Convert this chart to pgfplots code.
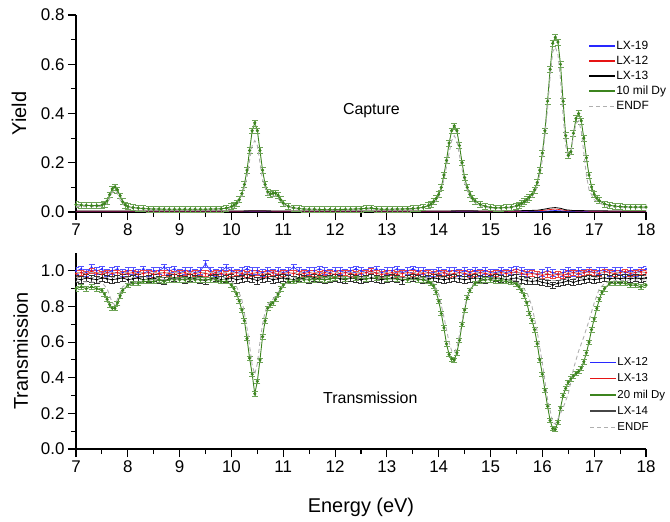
\documentclass[border=0pt]{standalone}
\usepackage{fontspec}
\setmainfont{Liberation Sans}
\usepackage{pgfplots}
\pgfplotsset{compat=1.18}

\definecolor{lxblue}{RGB}{40,40,255}
\definecolor{lxred}{RGB}{230,20,20}
\definecolor{dygreen}{RGB}{60,132,30}
\definecolor{endfgray}{RGB}{175,175,175}
\definecolor{lxgray}{RGB}{70,70,70}

\pgfplotsset{
  panel/.style={
    scale only axis, width=570bp,
    xmin=7, xmax=18, xtick={7,8,...,18}, minor x tick num=1, minor y tick num=1,
    axis x line*=bottom, axis y line*=left,
    axis line style={line width=1.1pt, -},
    tick align=outside, major tick length=8bp, minor tick length=5bp,
    every tick/.style={line width=1.1pt, black},
    tick label style={font=\fontsize{17}{17}\selectfont},
    /pgf/number format/assume math mode=true,
    yticklabel style={/pgf/number format/.cd, fixed, fixed zerofill, precision=1},
    label style={font=\fontsize{20}{20}\selectfont},
    legend cell align=left,
    legend image code/.code={\draw[##1] (0bp,0bp) -- (26bp,0bp);},
  },
  gdat/.style={dygreen, line width=0.9pt, mark=*, mark size=1.1pt,
    error bars/y dir=both, error bars/y fixed=#1,
    error bars/error bar style={line width=0.5pt, dygreen!75},
    error bars/error mark options={rotate=90, mark size=3bp, line width=0.5pt, dygreen!75}},
  fdat/.style n args={2}{#1, line width=0.7pt, mark=*, mark size=0.7pt,
    error bars/y dir=both, error bars/y fixed=#2,
    error bars/error bar style={line width=0.5pt, #1!80},
    error bars/error mark options={rotate=90, mark size=3bp, line width=0.5pt, #1!80}},
  endf/.style={endfgray, line width=0.9pt, dash pattern=on 4bp off 3bp},
  leg/.style={#1, line width=1.6pt, solid},
}

\begin{document}
\begin{tikzpicture}
\path[use as bounding box] (-76bp,-310bp) rectangle (594bp,212bp);

% ---------- Capture ----------
\begin{axis}[panel, at={(0,0)}, anchor=south west, height=197bp,
  ymin=0, ymax=0.8, ytick={0,0.2,0.4,0.6,0.8},
  ylabel={Yield},
  ylabel style={at={(axis description cs:-0.1,0.5)}, anchor=center},
  legend style={at={(axis description cs:0.893,0.885)}, anchor=north west,
    draw=none, fill=none, font=\fontsize{12}{12}\selectfont,
    nodes={inner sep=0.5bp, text height=9bp, text depth=2.5bp}, row sep=2.5bp},
]
\addplot[lxblue, line width=0.7pt, forget plot] coordinates {
(7,0.002) (7.5,0.002) (8,0.002) (8.5,0.002) (9,0.002) (9.5,0.002) (10,0.002)
(10.5,0.003) (11,0.002) (11.5,0.002) (12,0.002) (12.5,0.002) (13,0.002) (13.5,0.002)
(14,0.002) (14.5,0.003) (15,0.002) (15.5,0.002) (16,0.003) (16.25,0.006) (16.5,0.003)
(17,0.002) (17.5,0.002) (18,0.002)};
\addplot[lxred, line width=0.7pt, forget plot] coordinates {
(7,0.003) (7.5,0.003) (8,0.003) (8.5,0.003) (9,0.003) (9.5,0.003) (10,0.003)
(10.5,0.004) (11,0.003) (11.5,0.003) (12,0.003) (12.5,0.003) (13,0.003) (13.5,0.003)
(14,0.003) (14.5,0.004) (15,0.003) (15.5,0.003) (16,0.006) (16.1,0.009) (16.25,0.012)
(16.4,0.008) (16.5,0.005) (17,0.003) (17.5,0.003) (18,0.003)};
\addplot[black, line width=0.8pt, forget plot] coordinates {
(7,0.004) (7.5,0.004) (8,0.004) (8.5,0.004) (9,0.004) (9.5,0.004) (10,0.004)
(10.5,0.005) (11,0.004) (11.5,0.004) (12,0.004) (12.5,0.004) (13,0.004) (13.5,0.004)
(14,0.004) (14.5,0.005) (15,0.004) (15.5,0.005) (15.9,0.007) (16.05,0.012) (16.15,0.016)
(16.25,0.018) (16.35,0.015) (16.45,0.009) (16.6,0.006) (17,0.005) (17.5,0.004) (18,0.004)};
\addplot[forget plot, gdat=0.012] coordinates {
(7.0,0.030) (7.1,0.028) (7.2,0.027) (7.3,0.026) (7.4,0.026) (7.5,0.028) (7.55,0.033)
(7.6,0.045) (7.65,0.070) (7.7,0.094) (7.75,0.102) (7.8,0.090) (7.85,0.066) (7.9,0.042)
(7.95,0.029) (8.0,0.022) (8.1,0.018) (8.2,0.016) (8.3,0.014) (8.4,0.013) (8.5,0.012)
(8.6,0.012) (8.7,0.011) (8.8,0.011) (8.9,0.011) (9.0,0.011) (9.1,0.011) (9.2,0.011)
(9.3,0.011) (9.4,0.011) (9.5,0.011) (9.6,0.012) (9.7,0.012) (9.8,0.013) (9.9,0.016)
(10.0,0.022) (10.05,0.028) (10.1,0.036) (10.15,0.050) (10.2,0.075) (10.25,0.112)
(10.3,0.170) (10.35,0.250) (10.4,0.330) (10.45,0.362) (10.5,0.330) (10.55,0.250)
(10.6,0.170) (10.65,0.112) (10.7,0.082) (10.75,0.073) (10.8,0.076) (10.85,0.077)
(10.9,0.068) (10.95,0.050) (11.0,0.036) (11.1,0.023) (11.2,0.017) (11.3,0.014)
(11.4,0.012) (11.5,0.011) (11.6,0.011) (11.7,0.010) (11.8,0.010) (11.9,0.010)
(12.0,0.010) (12.1,0.010) (12.2,0.011) (12.3,0.011) (12.4,0.012) (12.5,0.013)
(12.6,0.015) (12.7,0.016) (12.8,0.013) (12.9,0.011) (13.0,0.011) (13.1,0.011)
(13.2,0.012) (13.3,0.012) (13.4,0.013) (13.5,0.014) (13.6,0.016) (13.7,0.019)
(13.8,0.026) (13.85,0.032) (13.9,0.042) (13.95,0.055) (14.0,0.072) (14.05,0.100)
(14.1,0.150) (14.15,0.210) (14.2,0.280) (14.25,0.330) (14.3,0.350) (14.35,0.330)
(14.4,0.270) (14.45,0.200) (14.5,0.140) (14.55,0.100) (14.6,0.072) (14.65,0.056)
(14.7,0.045) (14.8,0.031) (14.9,0.023) (15.0,0.019) (15.1,0.017) (15.2,0.017)
(15.3,0.018) (15.4,0.020) (15.5,0.025) (15.55,0.029) (15.6,0.035) (15.65,0.042)
(15.7,0.050) (15.75,0.060) (15.8,0.072) (15.85,0.090) (15.9,0.120) (15.95,0.170)
(16.0,0.240) (16.05,0.330) (16.1,0.450) (16.15,0.580) (16.2,0.685) (16.25,0.710)
(16.3,0.690) (16.35,0.600) (16.4,0.450) (16.45,0.310) (16.5,0.230) (16.55,0.245)
(16.6,0.320) (16.65,0.380) (16.7,0.400) (16.75,0.370) (16.8,0.300) (16.85,0.220)
(16.9,0.150) (16.95,0.102) (17.0,0.072) (17.05,0.056) (17.1,0.046) (17.2,0.033)
(17.3,0.027) (17.4,0.024) (17.5,0.022) (17.6,0.021) (17.7,0.020) (17.8,0.020)
(17.9,0.020) (18.0,0.020)};
\addplot[endf, forget plot] coordinates {
(7.0,0.022) (7.5,0.022) (7.6,0.035) (7.65,0.055) (7.7,0.080) (7.75,0.088) (7.8,0.075)
(7.85,0.050) (7.9,0.032) (8.0,0.018) (8.5,0.010) (9.0,0.008) (9.5,0.008) (9.9,0.012)
(10.0,0.017) (10.1,0.028) (10.2,0.060) (10.3,0.140) (10.35,0.210) (10.4,0.270)
(10.45,0.290) (10.5,0.270) (10.55,0.200) (10.6,0.130) (10.7,0.070) (10.8,0.065)
(10.85,0.065) (10.9,0.055) (11.0,0.030) (11.2,0.013) (12.0,0.008) (13.0,0.009)
(13.5,0.011) (13.8,0.020) (13.9,0.034) (14.0,0.060) (14.1,0.130) (14.2,0.240)
(14.25,0.290) (14.3,0.310) (14.35,0.290) (14.4,0.230) (14.5,0.120) (14.6,0.060)
(14.7,0.038) (14.8,0.025) (15.0,0.015) (15.4,0.017) (15.6,0.030) (15.8,0.060)
(15.9,0.100) (16.0,0.210) (16.1,0.420) (16.15,0.550) (16.2,0.650) (16.25,0.670)
(16.3,0.640) (16.35,0.540) (16.4,0.390) (16.45,0.270) (16.5,0.220) (16.55,0.240)
(16.6,0.310) (16.65,0.360) (16.7,0.370) (16.75,0.330) (16.8,0.240) (16.85,0.150)
(16.9,0.090) (17.0,0.050) (17.2,0.025) (17.5,0.018) (18.0,0.016)};
\addlegendimage{leg=lxblue}
\addlegendentry{LX-19}
\addlegendimage{leg=lxred}
\addlegendentry{LX-12}
\addlegendimage{leg=black}
\addlegendentry{LX-13}
\addlegendimage{leg=dygreen}
\addlegendentry{10 mil Dy}
\addlegendimage{endf, line width=1.2pt}
\addlegendentry{ENDF}
\node[font=\fontsize{16}{16}\selectfont] at (axis cs:12.7,0.41) {Capture};
\end{axis}

% ---------- Transmission ----------
\begin{axis}[panel, at={(0,-237bp)}, anchor=south west, height=196bp,
  ymin=0, ymax=1.1, ytick={0,0.2,0.4,0.6,0.8,1.0},
  ylabel={Transmission}, xlabel={Energy (eV)},
  ylabel style={at={(axis description cs:-0.097,0.5)}, anchor=center},
  xlabel style={at={(axis description cs:0.5,-0.30)}, anchor=center},
  legend style={at={(axis description cs:0.895,0.485)}, anchor=north west,
    draw=none, fill=none, font=\fontsize{11.5}{11.5}\selectfont,
    nodes={inner sep=0.5bp, text height=9bp, text depth=2.5bp}, row sep=3.8bp},
]
\addplot[forget plot, fdat={lxblue}{0.018}] coordinates {
(7.0,1.00) (7.1,1.01) (7.2,0.99) (7.3,1.02) (7.4,1.00) (7.5,1.01) (7.6,0.99) (7.7,1.00)
(7.8,1.01) (7.9,0.99) (8.0,1.00) (8.1,1.00) (8.2,0.99) (8.3,1.01) (8.4,0.99) (8.5,1.00)
(8.6,1.00) (8.7,1.02) (8.8,1.00) (8.9,1.01) (9.0,0.99) (9.1,1.00) (9.2,1.00) (9.3,0.99)
(9.4,1.00) (9.5,1.04) (9.6,1.00) (9.7,0.99) (9.8,1.00) (9.9,1.02) (10.0,1.00) (10.1,0.99)
(10.2,1.00) (10.3,1.01) (10.4,1.00) (10.5,1.00) (10.6,0.99) (10.7,1.00) (10.8,0.99)
(10.9,1.00) (11.0,0.99) (11.1,1.00) (11.2,1.02) (11.3,1.00) (11.4,0.99) (11.5,1.00)
(11.6,1.00) (11.7,1.01) (11.8,1.00) (11.9,0.99) (12.0,1.00) (12.1,1.00) (12.2,0.99)
(12.3,1.00) (12.4,1.01) (12.5,1.00) (12.6,0.99) (12.7,1.00) (12.8,1.01) (12.9,0.99)
(13.0,1.00) (13.1,1.00) (13.2,1.01) (13.3,0.99) (13.4,1.00) (13.5,1.01) (13.6,1.00)
(13.7,1.00) (13.8,0.99) (13.9,0.99) (14.0,1.00) (14.1,0.99) (14.2,1.00) (14.3,1.00)
(14.4,0.99) (14.5,1.00) (14.6,0.99) (14.7,1.00) (14.8,0.99) (14.9,1.00) (15.0,0.99)
(15.1,0.99) (15.2,1.00) (15.3,0.99) (15.4,1.00) (15.5,1.01) (15.6,1.00) (15.7,0.99)
(15.8,0.99) (15.9,0.98) (16.0,0.99) (16.1,1.00) (16.2,0.99) (16.3,0.98) (16.4,0.99)
(16.5,1.00) (16.6,0.99) (16.7,1.00) (16.8,0.99) (16.9,1.00) (17.0,0.99) (17.1,1.00)
(17.2,1.00) (17.3,0.99) (17.4,1.00) (17.5,1.00) (17.6,0.99) (17.7,1.00) (17.8,0.99)
(17.9,1.00) (18.0,1.01)};
\addplot[forget plot, fdat={lxred}{0.016}] coordinates {
(7.0,0.985) (7.1,0.990) (7.2,0.980) (7.3,1.000) (7.4,0.985) (7.5,0.980) (7.6,0.990)
(7.7,0.985) (7.8,0.990) (7.9,0.980) (8.0,0.985) (8.1,0.990) (8.2,0.980) (8.3,0.985)
(8.4,0.990) (8.5,0.980) (8.6,0.985) (8.7,0.990) (8.8,0.985) (8.9,0.980) (9.0,0.985)
(9.1,0.990) (9.2,0.980) (9.3,0.985) (9.4,0.990) (9.5,0.985) (9.6,0.980) (9.7,0.990)
(9.8,0.985) (9.9,0.980) (10.0,0.985) (10.1,0.990) (10.2,0.985) (10.3,0.980) (10.4,0.985)
(10.5,0.990) (10.6,0.980) (10.7,0.985) (10.8,0.990) (10.9,0.980) (11.0,0.985)
(11.1,0.990) (11.2,0.985) (11.3,0.980) (11.4,0.985) (11.5,0.990) (11.6,0.985)
(11.7,0.980) (11.8,0.990) (11.9,0.985) (12.0,0.980) (12.1,0.985) (12.2,0.990)
(12.3,0.985) (12.4,0.980) (12.5,0.985) (12.6,0.990) (12.7,1.000) (12.8,0.985)
(12.9,0.980) (13.0,0.985) (13.1,0.990) (13.2,0.980) (13.3,0.985) (13.4,0.990)
(13.5,0.985) (13.6,0.980) (13.7,0.985) (13.8,0.990) (13.9,0.980) (14.0,0.985)
(14.1,0.990) (14.2,0.980) (14.3,0.985) (14.4,0.990) (14.5,0.985) (14.6,0.980)
(14.7,0.985) (14.8,0.990) (14.9,0.985) (15.0,0.980) (15.1,0.985) (15.2,0.990)
(15.3,0.985) (15.4,0.990) (15.5,0.995) (15.6,0.985) (15.7,0.980) (15.8,0.985)
(15.9,0.980) (16.0,0.975) (16.1,0.980) (16.2,0.975) (16.3,0.980) (16.4,0.975)
(16.5,0.985) (16.6,0.990) (16.7,0.985) (16.8,0.990) (16.9,0.995) (17.0,0.990)
(17.1,0.985) (17.2,0.995) (17.3,0.990) (17.4,0.985) (17.5,0.990) (17.6,0.995)
(17.7,0.985) (17.8,0.990) (17.9,0.995) (18.0,0.990)};
\addplot[forget plot, fdat={black}{0.018}] coordinates {
(7.0,0.955) (7.1,0.950) (7.2,0.960) (7.3,0.955) (7.4,0.950) (7.5,0.960) (7.6,0.955)
(7.7,0.950) (7.8,0.955) (7.9,0.960) (8.0,0.950) (8.1,0.955) (8.2,0.960) (8.3,0.950)
(8.4,0.955) (8.5,0.960) (8.6,0.950) (8.7,0.945) (8.8,0.955) (8.9,0.960) (9.0,0.955)
(9.1,0.950) (9.2,0.960) (9.3,0.955) (9.4,0.950) (9.5,0.945) (9.6,0.955) (9.7,0.960)
(9.8,0.950) (9.9,0.955) (10.0,0.960) (10.1,0.950) (10.2,0.955) (10.3,0.960) (10.4,0.955)
(10.5,0.945) (10.6,0.955) (10.7,0.960) (10.8,0.950) (10.9,0.955) (11.0,0.960)
(11.1,0.955) (11.2,0.950) (11.3,0.960) (11.4,0.955) (11.5,0.950) (11.6,0.960)
(11.7,0.955) (11.8,0.950) (11.9,0.955) (12.0,0.960) (12.1,0.955) (12.2,0.950)
(12.3,0.960) (12.4,0.955) (12.5,0.950) (12.6,0.955) (12.7,0.960) (12.8,0.955)
(12.9,0.950) (13.0,0.955) (13.1,0.960) (13.2,0.955) (13.3,0.945) (13.4,0.955)
(13.5,0.960) (13.6,0.955) (13.7,0.950) (13.8,0.955) (13.9,0.960) (14.0,0.955)
(14.1,0.950) (14.2,0.955) (14.3,0.960) (14.4,0.955) (14.5,0.950) (14.6,0.955)
(14.7,0.960) (14.8,0.955) (14.9,0.950) (15.0,0.955) (15.1,0.960) (15.2,0.955)
(15.3,0.950) (15.4,0.955) (15.5,0.960) (15.6,0.950) (15.7,0.945) (15.8,0.940)
(15.9,0.945) (16.0,0.935) (16.1,0.930) (16.2,0.920) (16.3,0.930) (16.4,0.935)
(16.5,0.945) (16.6,0.935) (16.7,0.945) (16.8,0.950) (16.9,0.955) (17.0,0.950)
(17.1,0.955) (17.2,0.960) (17.3,0.955) (17.4,0.960) (17.5,0.955) (17.6,0.960)
(17.7,0.955) (17.8,0.960) (17.9,0.955) (18.0,0.960)};
\addplot[endf, forget plot] coordinates {
(7.0,0.990) (8.0,0.990) (9.0,0.991) (10.0,0.990) (10.45,0.985) (11.0,0.990) (12.0,0.991)
(13.0,0.991) (14.0,0.990) (14.3,0.986) (15.0,0.990) (16.0,0.987) (16.25,0.982)
(16.5,0.987) (17.0,0.990) (18.0,0.990)};
\addplot[endf, forget plot] coordinates {
(7.0,0.962) (8.0,0.963) (9.0,0.964) (10.0,0.963) (10.45,0.955) (11.0,0.963) (12.0,0.964)
(13.0,0.964) (14.0,0.963) (14.3,0.957) (15.0,0.963) (16.0,0.955) (16.25,0.945)
(16.5,0.955) (17.0,0.962) (18.0,0.963)};
\addplot[forget plot, gdat=0.012] coordinates {
(7.0,0.900) (7.1,0.910) (7.2,0.900) (7.3,0.910) (7.4,0.900) (7.5,0.890) (7.55,0.870)
(7.6,0.840) (7.65,0.810) (7.7,0.790) (7.75,0.790) (7.8,0.820) (7.85,0.860) (7.9,0.890)
(8.0,0.920) (8.1,0.930) (8.2,0.930) (8.3,0.940) (8.4,0.940) (8.5,0.940) (8.6,0.950)
(8.7,0.940) (8.8,0.950) (8.9,0.950) (9.0,0.950) (9.1,0.950) (9.2,0.950) (9.3,0.950)
(9.4,0.950) (9.5,0.950) (9.6,0.950) (9.7,0.950) (9.8,0.940) (9.9,0.940) (10.0,0.920)
(10.05,0.900) (10.1,0.870) (10.15,0.830) (10.2,0.780) (10.25,0.720) (10.3,0.620)
(10.35,0.510) (10.4,0.420) (10.45,0.310) (10.5,0.380) (10.55,0.500) (10.6,0.630)
(10.65,0.720) (10.7,0.790) (10.75,0.810) (10.8,0.820) (10.85,0.840) (10.9,0.870)
(10.95,0.900) (11.0,0.920) (11.1,0.940) (11.2,0.940) (11.3,0.950) (11.4,0.950)
(11.5,0.950) (11.6,0.950) (11.7,0.955) (11.8,0.950) (11.9,0.955) (12.0,0.960)
(12.2,0.955) (12.4,0.960) (12.6,0.955) (12.8,0.960) (13.0,0.955) (13.2,0.955)
(13.4,0.950) (13.6,0.950) (13.7,0.950) (13.8,0.940) (13.85,0.930) (13.9,0.915)
(13.95,0.880) (14.0,0.830) (14.05,0.760) (14.1,0.680) (14.15,0.590) (14.2,0.530)
(14.25,0.505) (14.3,0.500) (14.35,0.540) (14.4,0.610) (14.45,0.700) (14.5,0.780)
(14.55,0.850) (14.6,0.890) (14.7,0.930) (14.8,0.945) (14.9,0.950) (15.0,0.950)
(15.1,0.945) (15.2,0.945) (15.3,0.940) (15.4,0.935) (15.5,0.925) (15.55,0.910)
(15.6,0.890) (15.65,0.860) (15.7,0.820) (15.75,0.760) (15.8,0.720) (15.85,0.670)
(15.9,0.590) (15.95,0.500) (16.0,0.420) (16.05,0.330) (16.1,0.240) (16.15,0.160)
(16.2,0.115) (16.25,0.110) (16.3,0.150) (16.35,0.230) (16.4,0.300) (16.45,0.340)
(16.5,0.375) (16.55,0.395) (16.6,0.410) (16.65,0.425) (16.7,0.435) (16.75,0.455)
(16.8,0.490) (16.85,0.540) (16.9,0.600) (16.95,0.670) (17.0,0.730) (17.05,0.790)
(17.1,0.840) (17.15,0.880) (17.2,0.900) (17.3,0.930) (17.4,0.930) (17.5,0.930)
(17.6,0.930) (17.7,0.920) (17.8,0.920) (17.9,0.910) (18.0,0.920)};
\addplot[endf, forget plot] coordinates {
(7.0,0.940) (7.5,0.935) (7.6,0.900) (7.65,0.860) (7.7,0.820) (7.75,0.810) (7.8,0.840)
(7.85,0.880) (7.9,0.910) (8.0,0.930) (8.5,0.950) (9.0,0.955) (9.5,0.955) (9.9,0.950)
(10.0,0.940) (10.1,0.910) (10.2,0.840) (10.3,0.680) (10.35,0.580) (10.4,0.470)
(10.45,0.420) (10.5,0.480) (10.55,0.600) (10.6,0.700) (10.65,0.770) (10.7,0.810)
(10.8,0.840) (10.9,0.880) (11.0,0.920) (11.2,0.950) (12.0,0.960) (13.7,0.960)
(13.9,0.930) (14.0,0.870) (14.1,0.740) (14.2,0.600) (14.25,0.550) (14.3,0.540)
(14.35,0.570) (14.4,0.640) (14.5,0.800) (14.6,0.900) (14.7,0.940) (15.0,0.955)
(15.5,0.945) (15.7,0.880) (15.8,0.800) (15.9,0.660) (16.0,0.480) (16.1,0.280)
(16.2,0.150) (16.25,0.140) (16.3,0.170) (16.4,0.230) (16.5,0.310) (16.6,0.450)
(16.7,0.550) (16.8,0.630) (16.9,0.720) (17.0,0.820) (17.1,0.900) (17.2,0.930)
(17.4,0.945) (18.0,0.950)};
\addlegendimage{leg=lxblue}
\addlegendentry{LX-12}
\addlegendimage{leg=lxred}
\addlegendentry{LX-13}
\addlegendimage{leg=dygreen}
\addlegendentry{20 mil Dy}
\addlegendimage{leg=lxgray}
\addlegendentry{LX-14}
\addlegendimage{endf, line width=1.2pt}
\addlegendentry{ENDF}
\node[font=\fontsize{16}{16}\selectfont] at (axis cs:12.68,0.285) {Transmission};
\end{axis}
\end{tikzpicture}
\end{document}
